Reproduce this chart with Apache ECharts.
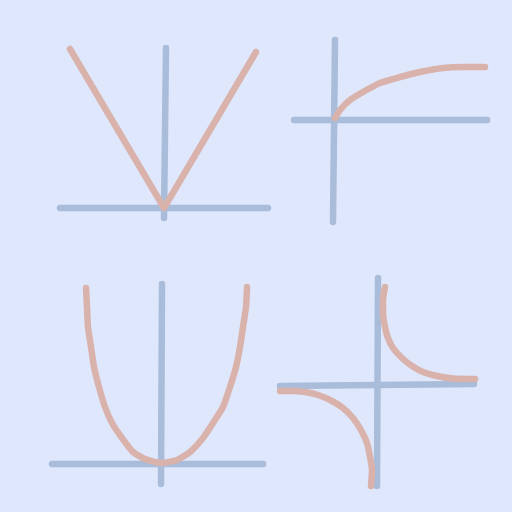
<!DOCTYPE html>
<html><head><meta charset="utf-8">
<script src="https://cdn.jsdelivr.net/npm/echarts@6/dist/echarts.min.js"></script>
<style>html,body{margin:0;padding:0;background:#dfe7fd}#c{width:512px;height:512px}</style>
</head><body><div id="c"></div>
<script>
// Panel 1: |x|
const absXAxis = [[-10.4, 0], [10.4, 0]];
const absYAxis = [[0.2, 16.0], [0, -1.0]];
const absCurve = [[-9.4, 15.9], [0, 0], [9.2, 15.6]];
// Panel 2: sqrt / log-like
const sqrtXAxis = [[-4.0, 0], [15.3, 0]];
const sqrtYAxis = [[0.1, 8.0], [-0.1, -10.2]];
const sqrtCurve = [[0.1, 0.2], [0.6, 1.0], [1.6, 2.0], [2.9, 2.8], [4.6, 3.7], [6.6, 4.3], [8.6, 4.8],
  [10.9, 5.2], [12.9, 5.3], [15.1, 5.3]];
// Panel 3: parabola
const parXAxis = [[-10.9, 0], [10.2, 0]];
const parYAxis = [[0.1, 18.0], [0, -2.0]];
const parCurve = [[-7.5, 17.6], [-7.4, 15.7], [-7.3, 13.7], [-7.0, 11.7], [-6.7, 9.7], [-6.2, 7.7], [-5.6, 5.7],
  [-4.9, 4.1], [-3.9, 2.6], [-2.8, 1.2], [-1.6, 0.5], [0.0, 0.1], [1.6, 0.4], [2.9, 1.2], [4.2, 2.6],
  [5.2, 4.1], [6.2, 5.7], [6.9, 7.7], [7.5, 9.7], [7.9, 11.7], [8.2, 13.7], [8.5, 15.7], [8.6, 17.7]];
// Panel 4: 1/x
const hypXAxis = [[-9.8, -0.1], [9.6, 0.1]];
const hypYAxis = [[0, 10.7], [-0.1, -10.1]];
const hypUpper = [[0.7, 9.8], [0.5, 8.5], [0.5, 7.2], [0.7, 5.8], [1.0, 4.7], [1.5, 3.7], [2.4, 2.7],
  [3.4, 1.9], [4.5, 1.3], [5.9, 0.9], [7.5, 0.65], [9.7, 0.6]];
const hypLower = [[-9.8, -0.6], [-8.6, -0.6], [-7.3, -0.7], [-6.0, -1.0], [-4.6, -1.6], [-3.5, -2.3],
  [-2.5, -3.3], [-1.7, -4.5], [-1.1, -5.8], [-0.8, -7.2], [-0.6, -8.5], [-0.7, -10.1]];

const AX = '#a9bcd9', CV = '#d9b2ab';
const grids = [
  {left: 54, top: 38, width: 220, height: 190},
  {left: 284, top: 30, width: 210, height: 200},
  {left: 41, top: 274, width: 230, height: 220},
  {left: 268, top: 275, width: 220, height: 220}
];
const xr = [[-11, 11], [-5, 16], [-12, 11], [-11, 11]];
const yr = [[-2, 17], [-11, 9], [-3, 19], [-11, 11]];
const panels = [
  [[absXAxis, AX, false], [absYAxis, AX, false], [absCurve, CV, false]],
  [[sqrtXAxis, AX, false], [sqrtYAxis, AX, false], [sqrtCurve, CV, true]],
  [[parXAxis, AX, false], [parYAxis, AX, false], [parCurve, CV, true]],
  [[hypXAxis, AX, false], [hypYAxis, AX, false], [hypUpper, CV, true], [hypLower, CV, true]]
];
const series = [];
panels.forEach((p, i) => p.forEach(([d, c, s]) => series.push({
  type: 'line', xAxisIndex: i, yAxisIndex: i, data: d, smooth: s ? 0.2 : false,
  showSymbol: false, z: c === CV ? 3 : 2,
  lineStyle: {color: c, width: 6.5, cap: 'round', join: 'round'}
})));
const chart = echarts.init(document.getElementById('c'), null, {renderer: 'canvas'});
chart.setOption({
  animation: false,
  backgroundColor: '#dfe7fd',
  grid: grids,
  xAxis: grids.map((g, i) => ({type: 'value', gridIndex: i, min: xr[i][0], max: xr[i][1], show: false})),
  yAxis: grids.map((g, i) => ({type: 'value', gridIndex: i, min: yr[i][0], max: yr[i][1], show: false})),
  series: series
});
</script></body></html>
